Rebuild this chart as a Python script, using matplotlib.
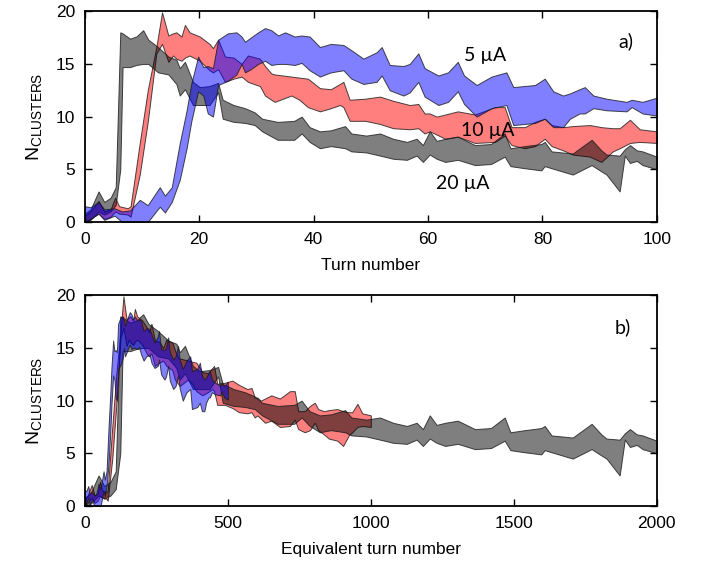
import matplotlib
matplotlib.use('Agg')
import matplotlib.pyplot as plt
import numpy as np

plt.rcParams['font.family'] = ['Liberation Sans', 'DejaVu Sans']
plt.rcParams['mathtext.default'] = 'regular'

# 20 uA (grey band): turn, lower, upper
gray_t = [0, 1, 2.4, 3.4, 4.5, 5.4, 6.2, 6.6, 7.9, 9, 10.2, 11.1, 12.8, 14.6,
          16.0, 16.6, 17.5, 18.9, 20.1, 21.8, 23.3, 24.1, 26, 28, 29.7, 31,
          33.7, 36.6, 37.9, 39.3, 41.1, 43, 45.5, 46.6, 49.2, 51.6, 53.9,
          56.3, 58, 59.1, 60.3, 61.5, 63, 65.2, 68.2, 71, 73.4, 74.4, 76.9,
          79.8, 80.4, 81.6, 85.3, 88.6, 90.3, 91.2, 93.5, 94.4, 95.3, 96.5,
          97.5, 100]
gray_lo = [0, 0.2, 1.0, 0.7, 1.0, 1.6, 5.0, 14.7, 14.7, 14.9, 15.0, 15.0,
           14.2, 14.0, 13.1, 12.0, 12.6, 11.1, 11.1, 11.1, 12.3, 9.8, 9.5,
           9.4, 9.2, 8.6, 7.8, 7.8, 8.4, 7.6, 7.0, 7.2, 7.0, 6.7, 6.6, 6.3,
           6.0, 5.9, 6.3, 5.7, 6.4, 6.0, 5.7, 5.9, 5.4, 5.5, 6.2, 5.3, 5.1,
           4.9, 5.3, 5.1, 4.5, 5.4, 4.8, 4.5, 2.9, 6.3, 5.6, 5.8, 5.4, 5.0]
gray_hi = [0.8, 1.2, 2.9, 1.9, 2.3, 3.3, 18.0, 17.9, 17.4, 17.6, 18.2, 17.3,
           16.6, 15.7, 15.4, 14.6, 15.2, 13.3, 12.8, 12.9, 13.2, 11.6, 11.1,
           10.8, 10.4, 9.8, 9.5, 9.6, 10.0, 9.0, 8.6, 8.7, 9.1, 8.4, 8.2,
           8.4, 7.9, 7.6, 7.9, 7.3, 8.6, 7.7, 7.9, 8.1, 7.3, 7.4, 8.4, 7.0,
           7.2, 7.4, 7.6, 6.7, 6.5, 7.8, 6.8, 6.4, 6.3, 6.9, 7.3, 6.8, 6.7,
           6.2]

# 10 uA (red band)
red_t = [0, 1, 2.4, 3.4, 4.5, 5.3, 6, 7.5, 8, 9.6, 11, 12.5, 13.5, 14.6,
         15.4, 16.0, 16.9, 17.5, 18.3, 20.1, 21.8, 22.4, 23.3, 24.5, 26,
         27.4, 28.5, 30.6, 31.5, 32.6, 33.2, 36.1, 37.5, 39, 41.1, 43, 44.6,
         45.2, 46.3, 49, 51.6, 53.9, 56.8, 58.3, 59.4, 60.3, 61.5, 63, 65.2,
         68.2, 71.7, 73.4, 74.6, 76.9, 78.7, 80.4, 81.6, 83.6, 85.3, 88.3,
         90.3, 92.3, 93.5, 95.3, 97, 100]
red_lo = [0, 0.3, 0.8, 0.3, 0.5, 1.0, 0.8, 0.7, 0.5, 4.5, 9.5, 16.0, 16.9,
          15.2, 15.8, 15.5, 15.3, 15.6, 15.8, 15.3, 14.4, 14.2, 14.5, 13.3,
          13.6, 13.8, 13.3, 12.9, 12.0, 11.6, 11.4, 12.0, 11.6, 10.9, 10.5,
          10.8, 11.1, 10.9, 9.6, 9.6, 9.3, 8.9, 8.8, 8.9, 8.4, 8.6, 8.3, 7.9,
          8.1, 7.5, 7.6, 8.2, 7.3, 7.0, 7.2, 7.9, 7.2, 6.8, 6.4, 6.2, 5.7,
          6.7, 7.0, 7.5, 7.6, 7.5]
red_hi = [0.6, 1.0, 2.0, 1.0, 1.2, 2.3, 1.5, 1.3, 1.5, 7.5, 12.5, 16.6,
          19.9, 17.7, 17.9, 18.0, 17.6, 18.7, 18.0, 17.6, 16.9, 16.5, 17.3,
          15.7, 15.6, 15.0, 15.8, 15.5, 14.8, 14.1, 14.0, 13.8, 13.7, 13.6,
          12.7, 12.6, 13.1, 13.3, 11.6, 11.7, 11.9, 11.5, 11.1, 11.2, 10.3,
          10.3, 10.0, 10.2, 10.5, 10.2, 10.9, 10.9, 9.0, 9.0, 9.5, 9.8, 9.2,
          9.0, 9.1, 9.2, 9.0, 8.9, 8.9, 9.7, 8.8, 8.6]

# 5 uA (blue band)
blue_t = [0, 1, 2.4, 3.4, 5.2, 6.5, 7.9, 9.6, 11, 13.1, 14.0, 15.2, 16.6,
          17.8, 18.6, 19.8, 20.7, 21.5, 22.4, 23.3, 25, 26.5, 27.4, 28, 29,
          30.3, 31.5, 32.6, 33.8, 35, 36.7, 37.9, 39.3, 41.1, 43, 45.2, 46.6,
          48.7, 51, 51.9, 53.3, 55.7, 56.8, 58.3, 59.4, 61.8, 63.5, 65.2,
          66.3, 68.5, 71.1, 73.7, 74.9, 78.7, 80.4, 81.9, 83.6, 84.8, 86.5,
          87.4, 88.9, 91.2, 94.7, 95.6, 97.5, 100]
blue_lo = [0, 0.3, 0.8, 0.2, 0.6, 0, 0, 0, 0, 1.45, 0.9, 1.9, 4.0, 7.0,
           9.5, 12.4, 12.0, 10.3, 10.0, 13.0, 13.4, 14.0, 15.0, 14.2, 14.5,
           15.0, 15.3, 14.9, 15.0, 15.0, 14.9, 15.1, 14.4, 13.8, 14.2, 14.4,
           13.6, 13.1, 13.3, 13.9, 12.5, 12.0, 12.3, 13.3, 11.9, 11.1, 11.4,
           12.4, 11.2, 10.0, 10.8, 11.1, 9.2, 9.4, 9.8, 9.0, 9.0, 9.8, 10.3,
           10.3, 10.8, 10.6, 10.5, 10.9, 10.3, 10.1]
blue_hi = [1.5, 1.4, 1.9, 1.2, 1.3, 1.0, 1.1, 2.1, 1.6, 3.3, 2.5, 3.3, 7.5,
           10.6, 13.1, 15.7, 14.7, 14.8, 14.6, 17.3, 17.9, 18.0, 17.6, 17.1,
           17.5, 18.0, 18.4, 18.2, 17.7, 18.0, 17.6, 17.7, 17.6, 16.6, 16.9,
           16.8, 16.3, 15.5, 16.1, 16.6, 14.9, 14.8, 15.0, 16.0, 14.6, 13.9,
           14.2, 15.2, 13.9, 13.0, 13.8, 14.2, 12.8, 13.0, 13.6, 12.4, 12.0,
           12.2, 12.6, 12.8, 12.0, 11.7, 11.4, 11.6, 11.4, 11.8]

# beam currents (uA), used for the equivalent turn number
currents = {'red': 10, 'gray': 20, 'blue': 5}
labels = ['5 µA', '10 µA', '20 µA']

bands = [
    ('red', red_t, red_lo, red_hi, (1.0, 0.0, 0.0, 0.5)),
    ('gray', gray_t, gray_lo, gray_hi, (0.0, 0.0, 0.0, 0.5)),
    ('blue', blue_t, blue_lo, blue_hi, (0.0, 0.0, 1.0, 0.5)),
]

fig = plt.figure(figsize=(7.01, 5.62), dpi=100)
ax_a = fig.add_axes([0.121, 0.605, 0.816, 0.375])
ax_b = fig.add_axes([0.121, 0.0996, 0.816, 0.375])

for ax, scaled in ((ax_a, False), (ax_b, True)):
    for name, t, lo, hi, col in bands:
        x = np.array(t) * (currents[name] if scaled else 1)
        ax.fill_between(x, lo, hi, facecolor=col,
                        edgecolor=(0.1, 0.1, 0.1, 0.8), linewidth=0.7)
    ax.set_ylim(0, 20)
    ax.set_yticks([0, 5, 10, 15, 20])
    ax.tick_params(direction='in', top=True, right=True, length=5,
                   width=1, labelsize=12.5, pad=7)
    for s in ax.spines.values():
        s.set_linewidth(1.3)
    ax.set_ylabel(r'N$_\mathregular{CLUSTERS}$', fontsize=14, labelpad=8)

ax_a.set_xlim(0, 100)
ax_a.set_xticks([0, 20, 40, 60, 80, 100])
ax_a.set_xlabel('Turn number', fontsize=12.5, labelpad=8)
ax_b.set_xlim(0, 2000)
ax_b.set_xticks([0, 500, 1000, 1500, 2000])
ax_b.set_xlabel('Equivalent turn number', fontsize=12.5, labelpad=8)

lab_kw = dict(fontsize=14, family=['Lato', 'DejaVu Sans'], ha='center', va='center')
ax_a.text(70, 15.8, labels[0], **lab_kw)
ax_a.text(70.5, 8.7, labels[1], **lab_kw)
ax_a.text(66, 3.7, labels[2], **lab_kw)
ax_a.text(0.945, 0.86, 'a)', transform=ax_a.transAxes, **lab_kw)
ax_b.text(0.94, 0.85, 'b)', transform=ax_b.transAxes, **lab_kw)

fig.savefig('out.png', dpi=100)
